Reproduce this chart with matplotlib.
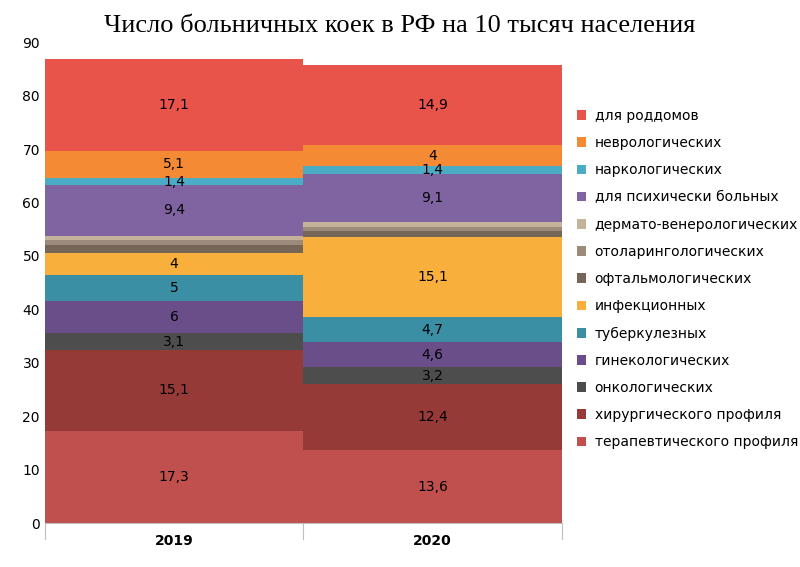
import matplotlib.pyplot as plt
import numpy as np

years = ['2019', '2020']
# bottom to top
categories = ['терапевтического профиля', 'хирургического профиля', 'онкологических',
              'гинекологических', 'туберкулезных', 'инфекционных', 'офтальмологических',
              'отоларингологических', 'дермато-венерологических', 'для психически больных',
              'наркологических', 'неврологических', 'для роддомов']
values_2019 = [17.3, 15.1, 3.1, 6, 5, 4, 1.5, 1.0, 0.8, 9.4, 1.4, 5.1, 17.1]
values_2020 = [13.6, 12.4, 3.2, 4.6, 4.7, 15.1, 1.1, 0.75, 0.8, 9.1, 1.4, 4, 14.9]
labelled = [True] * 6 + [False] * 3 + [True] * 4
colors = ['#C0504D', '#963A37', '#4D4D4D', '#6A4E8A', '#3A8FA4', '#F9AF3C', '#756657',
          '#9C8B7B', '#C4B39A', '#8064A2', '#4BACC6', '#F58A35', '#E8534A']

fig = plt.figure(figsize=(8, 5.67), dpi=100)
ax = fig.add_axes([0.056, 0.0776, 0.646, 0.848])

x = np.array([0, 1])
bottoms = np.zeros(2)
handles = []
for i, cat in enumerate(categories):
    vals = np.array([values_2019[i], values_2020[i]])
    h = ax.bar(x, vals, width=1.0, bottom=bottoms, color=colors[i], label=cat)
    handles.append(h)
    if labelled[i]:
        for j in range(2):
            txt = f'{vals[j]:g}'.replace('.', ',')
            ax.text(x[j], bottoms[j] + vals[j] / 2, txt, ha='center', va='center',
                    fontsize=10, color='black')
    bottoms += vals

ax.set_xlim(-0.5, 1.5)
ax.set_ylim(0, 90)
ax.set_yticks(range(0, 91, 10))
ax.set_xticks(x)
ax.set_xticklabels(years, fontweight='bold')
ax.tick_params(axis='y', length=0, labelsize=10)
ax.tick_params(axis='x', length=0, labelsize=10, pad=8)
for s in ['top', 'right', 'left']:
    ax.spines[s].set_visible(False)
ax.spines['bottom'].set_color('#BFBFBF')
for xv in [-0.5, 0.5, 1.5]:
    ax.plot([xv, xv], [0, -3], color='#BFBFBF', lw=0.8, clip_on=False)

fig.legend(handles[::-1], categories[::-1], loc='upper left', bbox_to_anchor=(0.705, 0.83),
           frameon=False, fontsize=10, handlelength=0.7, handleheight=0.7,
           labelspacing=0.95, handletextpad=0.6)

fig.text(0.5, 0.955, 'Число больничных коек в РФ на 10 тысяч населения', ha='center',
         va='center', fontsize=19, family='Liberation Serif')

fig.savefig('out.png')
